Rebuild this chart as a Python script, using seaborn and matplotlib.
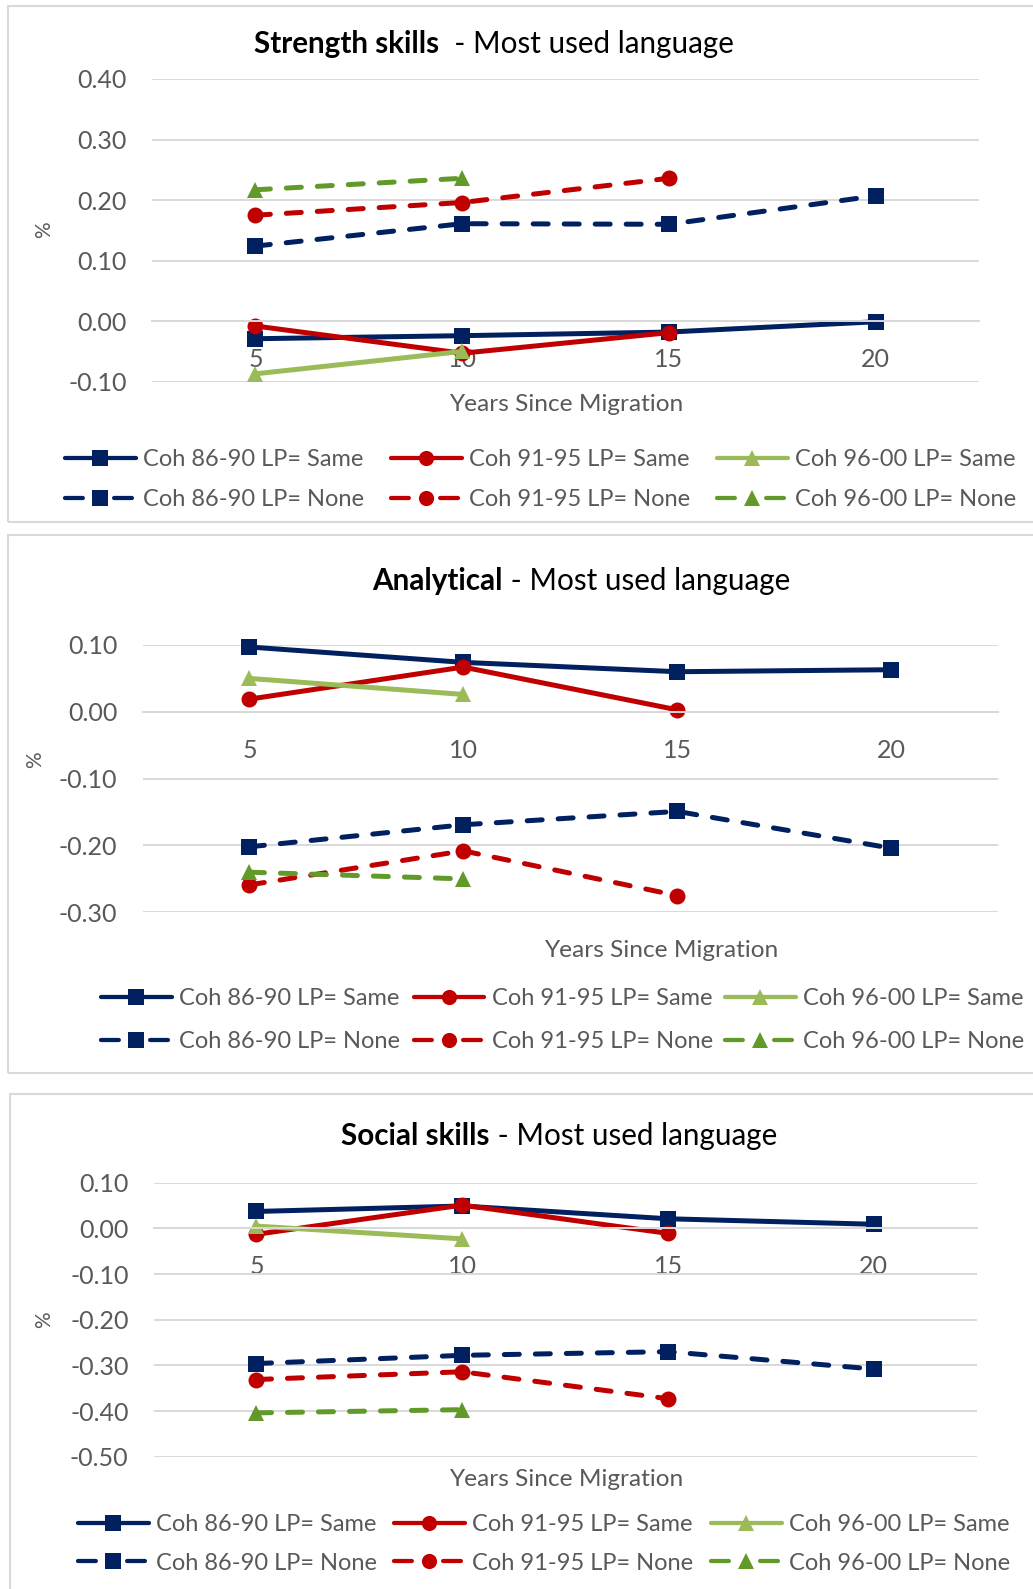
import matplotlib
matplotlib.use("Agg")
import matplotlib.pyplot as plt
from matplotlib.lines import Line2D
from matplotlib.patches import Rectangle
import numpy as np
import pandas as pd
import seaborn as sns

# ---------------------------------------------------------------- data
years = [5, 10, 15, 20]
series_labels = [
    "Coh 86-90 LP= Same", "Coh 91-95 LP= Same", "Coh 96-00 LP= Same",
    "Coh 86-90 LP= None", "Coh 91-95 LP= None", "Coh 96-00 LP= None",
]

strength_8690_same = [-0.029, -0.024, -0.018, -0.001]
strength_9195_same = [-0.008, -0.053, -0.019]
strength_9600_same = [-0.087, -0.050]
strength_8690_none = [0.124, 0.161, 0.160, 0.207]
strength_9195_none = [0.175, 0.196, 0.236]
strength_9600_none = [0.217, 0.236]

analytical_8690_same = [0.097, 0.074, 0.060, 0.063]
analytical_9195_same = [0.019, 0.067, 0.003]
analytical_9600_same = [0.050, 0.026]
analytical_8690_none = [-0.202, -0.169, -0.149, -0.204]
analytical_9195_none = [-0.259, -0.208, -0.275]
analytical_9600_none = [-0.240, -0.250]

social_8690_same = [0.037, 0.049, 0.021, 0.009]
social_9195_same = [-0.013, 0.051, -0.011]
social_9600_same = [0.005, -0.023]
social_8690_none = [-0.296, -0.278, -0.270, -0.308]
social_9195_none = [-0.331, -0.314, -0.373]
social_9600_none = [-0.404, -0.397]

strength_ticks = [-0.10, 0.00, 0.10, 0.20, 0.30, 0.40]
analytical_ticks = [-0.30, -0.20, -0.10, 0.00, 0.10]
social_ticks = [-0.50, -0.40, -0.30, -0.20, -0.10, 0.00, 0.10]

# ---------------------------------------------------------------- style
sns.set_style("white")
plt.rcParams["font.family"] = ["Lato", "DejaVu Sans"]
plt.rcParams["axes.unicode_minus"] = False

NAVY, RED, LGREEN, DGREEN = "#002060", "#C00000", "#9BBB59", "#629A2A"
GRID = "#D9D9D9"
TXT = "#595959"

colors = [NAVY, RED, LGREEN, NAVY, RED, DGREEN]
marker_list = ["s", "o", "^", "s", "o", "^"]
palette = dict(zip(series_labels, colors))
markers = dict(zip(series_labels, marker_list))
dash = (3.0, 3.2)
dashes = dict(zip(series_labels, ["", "", "", dash, dash, dash]))

LW = 3.6
MS = 11.5

W, H = 1033, 1589
fig = plt.figure(figsize=(W / 100, H / 100), dpi=100)


def fx(x):
    return x / W


def fy(y):
    return 1 - y / H


def make_frame(rows):
    recs = []
    for label, vals in zip(series_labels, rows):
        for yr, v in zip(years, vals):
            recs.append({"years": yr, "value": v, "series": label})
    return pd.DataFrame(recs)


def panel(rows, ticks, box, ylim, show_ticks):
    left, right, top, bottom = box
    ax = fig.add_axes([fx(left), fy(bottom), (right - left) / W, (bottom - top) / H])
    df = make_frame(rows)
    sns.lineplot(data=df, x="years", y="value", hue="series", style="series",
                 hue_order=series_labels, style_order=series_labels,
                 palette=palette, markers=markers, dashes=dashes,
                 linewidth=LW, markersize=MS, markeredgewidth=0,
                 errorbar=None, legend=False, ax=ax)
    for ln in ax.lines:
        ln.set_dash_capstyle("round")
        ln.set_solid_capstyle("round")
        ln.set_solid_joinstyle("round")
        ln.set_dash_joinstyle("round")
        ln.set_clip_on(False)
    ax.set_xlim(2.5, 22.5)
    ax.set_ylim(*ylim)
    ax.set_yticks(ticks, labels=[f"{v:.2f}" for v in ticks])
    ax.set_xticks([2.5, 7.5, 12.5, 17.5, 22.5], labels=[])
    ax.set_xticks(years, labels=[str(y) for y in years], minor=True)
    ax.tick_params(axis="y", length=0, pad=18, labelsize=18, labelcolor=TXT)
    ax.tick_params(axis="x", which="major", length=6 if show_ticks else 0,
                   width=1.4, color=GRID, direction="out")
    ax.tick_params(axis="x", which="minor", length=0, pad=19.5, labelsize=18,
                   labelcolor=TXT)
    ax.yaxis.grid(True, color=GRID, lw=1.4)
    ax.xaxis.grid(False)
    ax.set_axisbelow(True)
    for s in ("left", "right", "top"):
        ax.spines[s].set_visible(False)
    ax.spines["bottom"].set_position(("data", 0))
    ax.spines["bottom"].set_color(GRID)
    ax.spines["bottom"].set_linewidth(1.4)
    ax.set_xlabel("")
    ax.set_ylabel("")
    return ax


def two_part_title(cx, baseline, bold, rest, size=21.3):
    r = fig.canvas.get_renderer()
    t1 = fig.text(0, fy(baseline), bold, weight="bold", size=size, va="baseline",
                  ha="left", color="black")
    t2 = fig.text(0, fy(baseline), rest, size=size, va="baseline", ha="left",
                  color="black")
    w1 = t1.get_window_extent(r).width
    w2 = t2.get_window_extent(r).width
    x0 = cx - (w1 + w2) / 2
    t1.set_x(fx(x0))
    t2.set_x(fx(x0 + w1))


def legend_handle(i):
    # legend keys: solid line, or one dash on each side of the marker
    ls = "-" if i < 3 else (0, (4.2, 7.35))
    h = Line2D([], [], color=colors[i], lw=LW * 0.85, ls=ls, marker=marker_list[i],
               markersize=MS * 0.95, markeredgewidth=0)
    h.set_dash_capstyle("round")
    h.set_solid_capstyle("round")
    return h


def legend_block(x_handles, row1_top, spacing, size=17):
    for i, xh in enumerate(x_handles):
        idx = [i, i + 3]
        fig.legend([legend_handle(k) for k in idx], [series_labels[k] for k in idx],
                   loc="upper left", bbox_to_anchor=(fx(xh), fy(row1_top)),
                   frameon=False, borderpad=0, borderaxespad=0,
                   handlelength=3.0, handletextpad=0.3, labelspacing=spacing,
                   fontsize=size, labelcolor=TXT, numpoints=1)


def frame(x0, y0, y1):
    fig.add_artist(Rectangle((fx(x0), fy(y1)), (W + 10 - x0) / W, (y1 - y0) / H,
                             transform=fig.transFigure, fill=False,
                             ec=GRID, lw=1.5))


# ---------------------------------------------------------------- panels
frame(8, 6, 522)
frame(8, 535, 1073)
frame(10, 1094, 1600)

ax1 = panel([strength_8690_same, strength_9195_same, strength_9600_same,
             strength_8690_none, strength_9195_none, strength_9600_none],
            strength_ticks, (152, 979, 79, 381.7), (-0.10, 0.40), True)
ax2 = panel([analytical_8690_same, analytical_9195_same, analytical_9600_same,
             analytical_8690_none, analytical_9195_none, analytical_9600_none],
            analytical_ticks, (142.5, 998, 645, 912.3), (-0.30, 0.10), False)
ax3 = panel([social_8690_same, social_9195_same, social_9600_same,
             social_8690_none, social_9195_none, social_9600_none],
            social_ticks, (153.6, 976.7, 1182.7, 1456.7), (-0.50, 0.10), True)

two_part_title(494, 52.5, "Strength skills", "  - Most used language")
two_part_title(581, 590, "Analytical", " - Most used language")
two_part_title(559, 1145, "Social skills", " - Most used language")

for cx, base in ((566, 411), (661, 957), (566, 1486)):
    fig.text(fx(cx), fy(base), "Years Since Migration", ha="center",
             va="baseline", size=17.6, color=TXT)
for x, y in ((44.6, 230), (35.5, 760), (44.6, 1320)):
    fig.text(fx(x), fy(y), "%", rotation=90, ha="center", va="center",
             size=15, color=TXT)

legend_block((65, 391, 717), 449, 0.8)
legend_block((101, 413.6, 725), 988, 0.95)
legend_block((78, 394, 711), 1514, 0.75)

fig.savefig("out.png", dpi=100)
